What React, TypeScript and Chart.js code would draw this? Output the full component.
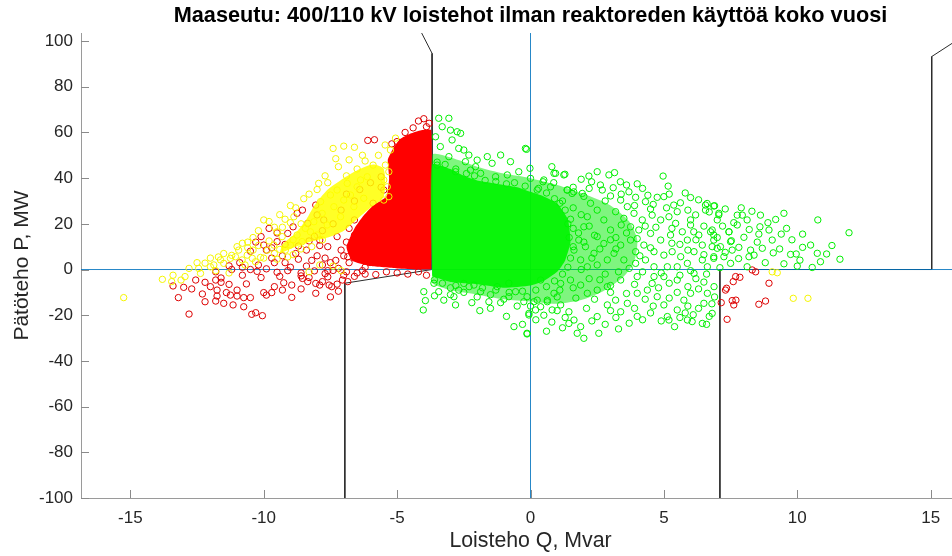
import React, { useEffect, useRef } from "react";
import { Chart, registerables } from "chart.js";

Chart.register(...registerables);

const TITLE = "Maaseutu: 400/110 kV loistehot ilman reaktoreden käyttöä koko vuosi";
const X_LABEL = "Loisteho Q, Mvar";
const Y_LABEL = "Pätöteho P, MW";
const X_TICKS = [-15, -10, -5, 0, 5, 10, 15];
const Y_TICKS = [-100, -80, -60, -40, -20, 0, 20, 40, 60, 80, 100];
const X_MIN = -16.85;
const X_MAX = 16.85;
const Y_MIN = -100;
const Y_MAX = 103.5;

// dense (overplotted) regions, outline [Q, P]
const greenHalo = [[-3.68,-3],[-3.68,50],[-3.0,49],[-2.0,45],[-1.0,42],[0,40],[1,37],[2,33],[3,28],[3.7,21],[4.0,13],[3.9,4],[3.5,-3],[2.8,-9],[2.0,-13],[1.0,-15],[0,-14],[-1,-13],[-2,-11],[-3,-9],[-3.68,-6],[-3.68,-3]];
const greenCore = [[-3.68,-3],[-3.68,46],[-3.0,44],[-2.5,41],[-2.0,39],[-1.5,38],[-1.0,37],[-0.5,36],[0.0,34],[0.5,32],[1.0,29],[1.4,22],[1.5,12],[1.3,4],[1.0,-1],[0.5,-5],[0.0,-7],[-1.0,-8],[-2.0,-6.5],[-3.0,-5.5],[-3.68,-3]];
const yellowCore = [[-9.4,7],[-9.0,9],[-8.3,12],[-7.6,14],[-7.0,17],[-6.5,22],[-6.0,27],[-5.5,32],[-5.5,44],[-5.9,46],[-6.4,44],[-7.0,40],[-7.6,35],[-8.1,28],[-8.4,22],[-8.8,16],[-9.3,11],[-9.4,7]];
const redCore = [[-3.72,0],[-3.72,61],[-4.1,61],[-4.5,59.5],[-4.9,57],[-5.15,53],[-5.35,48],[-5.3,40],[-5.4,32],[-5.9,28],[-6.3,23],[-6.6,18],[-6.9,10],[-6.7,4],[-6.0,1.5],[-5.0,0.5],[-4.2,0],[-3.72,0]];

// individual measurements [Q, P]
const greenPts = [
[-3.44,66.2],[-3.06,66.2],[-3.31,62.5],[-3.0,61.0],[-3.56,58.1],[-2.75,60.3],[-2.62,59.6],[-3.38,53.8],[-2.94,56.7],[-2.69,53.0],[-2.5,52.3],[-2.31,50.1],[-2.0,47.9],[-3.06,49.4],[-3.5,45.7],[-2.44,47.2],[-2.06,45.0],[-1.62,49.4],[-1.44,46.5],[-1.12,50.1],[-0.75,47.2],[-0.44,42.8],[-0.19,53.0],[-0.87,41.4],[-1.31,40.6],[-1.87,42.1],[-2.25,43.5],[-2.81,42.8],[0.0,39.9],[0.5,39.2],[0.88,42.1],[1.25,41.4],[1.38,34.8],[1.56,33.3],[0.75,36.2],[0.25,34.8],
[-0.15,52.6],[-0.02,44.3],[0.94,42.1],[1.29,41.7],[0.47,38.4],[0.87,38.0],[2.19,40.9],[2.5,42.8],[2.94,41.4],[3.15,42.4],[3.37,38.4],[2.29,38.4],[2.62,37.0],[1.37,34.8],[1.62,34.0],[1.94,33.3],[2.69,34.8],[3.0,32.2],[3.69,34.0],[3.94,31.6],[4.31,29.7],[4.75,31.6],[5.0,31.9],[4.97,40.9],[5.16,36.5],[5.37,28.2],[5.62,29.2],[5.5,25.3],[6.19,23.9],[6.0,21.7],[6.56,28.2],[6.87,27.8],[7.06,23.9],[7.0,21.7],[6.12,16.5],[6.31,15.1],[6.81,17.3],[6.87,15.1],[7.44,16.5],[7.75,19.5],[7.5,12.2],[7.12,10.0],[6.87,5.6],[7.25,5.6],[7.5,2.7],
[3.38,30.4],[3.63,27.5],[3.19,25.3],[3.5,22.4],[3.88,24.6],[4.19,21.7],[4.56,23.8],[4.88,21.7],[5.19,23.1],[5.44,20.2],[5.69,16.5],[5.88,12.9],[5.25,15.1],[4.88,12.9],[4.5,15.8],[4.25,10.7],[3.94,7.8],[3.75,12.9],[3.38,10.7],[3.13,7.1],[2.88,4.2],[3.5,4.2],[3.94,2.7],[4.31,4.2],[4.63,1.2],[5.0,6.3],[5.31,7.8],[5.63,5.6],[5.88,2.7],[6.13,7.8],[6.44,4.2],[6.63,1.2],[6.81,10.0],[6.44,10.7],[6.13,-1.7],[5.5,1.2],[5.13,1.2],[4.63,7.8],[4.06,17.3],[3.75,18.7],[3.0,17.3],[2.75,21.7],[2.5,26.0],[2.25,29.0],[2.13,23.1],[2.0,18.7],[2.5,14.4],[2.75,11.4],[2.38,7.1],[2.06,10.0],[1.81,12.9],[1.63,8.5],[1.88,4.2],[2.13,1.2],
[-0.13,-11.9],[0.13,-14.1],[0.38,-16.3],[0.63,-13.4],[0.88,-10.4],[1.13,-15.5],[1.44,-18.5],[1.63,-22.1],[1.88,-25.0],[2.0,-30.1],[1.75,-27.9],[1.44,-23.6],[2.56,-27.9],[2.5,-20.6],[2.88,-15.5],[3.19,-13.4],[3.38,-18.5],[3.63,-14.8],[4.0,-10.4],[4.38,-9.0],[4.56,-6.1],[4.75,-11.9],[5.0,-15.5],[5.13,-20.6],[5.19,-22.1],[5.5,-17.7],[5.75,-13.4],[6.0,-10.4],[5.88,-22.1],[6.06,-22.8],[6.44,-23.6],[6.5,-14.8],[6.63,-10.4],[6.88,-7.5],[6.81,-19.2],[5.5,-4.6],[5.0,-3.1],[4.63,-3.1],[4.0,-3.1],[3.38,-4.6],[2.88,-7.5],[2.5,-9.0],[2.13,-10.4],[1.88,-6.8],[1.5,-4.6],[1.13,-6.1],[0.38,-4.6],[-0.13,-27.9],[-0.06,-19.2],
[6.62,28.9],[6.9,27.9],[6.56,26.0],[7.06,24.6],[6.75,16.5],[6.87,12.9],[7.0,9.3],[6.87,4.9],[7.75,23.8],[7.94,23.8],[8.12,21.7],[7.62,20.5],[7.44,16.5],[8.0,14.1],[7.53,12.6],[7.81,9.7],[7.56,8.5],[8.25,8.5],[8.19,5.6],[8.38,6.3],[8.62,23.8],[8.6,18.7],[8.56,15.5],[8.94,17.3],[9.06,12.9],[9.19,21.9],[9.5,24.6],[9.6,18.0],[8.69,9.3],[9.1,7.3],[9.34,9.0],[9.75,6.6],[9.96,6.8],[10.1,4.1],[10.2,9.7],[10.5,10.7],[10.75,7.1],[11.1,6.8],[10.87,3.4],[10.77,21.7],[11.94,16.1],[10.56,0.9],[8.12,1.2],
[-4.0,-9.7],[-3.94,-13.6],[-4.02,-17.7],[-3.62,-6.0],[-3.44,-9.7],[-3.25,-13.4],[-2.87,-11.9],[-2.81,-15.5],[-2.69,-9.0],[-1.87,-9.7],[-1.56,-14.1],[-1.12,-14.5],[-0.81,-11.9],[-0.56,-9.7],[-0.62,-25.0],[-0.13,-28.2],[-0.06,-19.9],[-0.25,-14.1],[0.25,-13.4],[0.19,-17.7],[0.63,-14.1],[0.81,-17.7],[-2.5,-6.1],[-2.12,-6.8],[-1.25,-7.5],[-0.81,-6.0],
[-3.5,47],[-3.2,46],[-2.8,44],[-2.4,42],[-2.1,41],[-1.7,39],[-1.3,38.5],[-0.9,37.5],[-0.6,38],[-0.2,36.5],[0.3,35.5],[0.6,33.5],[0.9,31],[1.1,29],[1.3,26],[1.5,22],[1.6,18],[1.45,14],[1.6,10],[1.5,5],[1.4,1],[1.2,-2],[0.9,-5],[0.6,-7.5],[0.2,-9],[-0.3,-9.5],[-0.8,-10],[-1.3,-9],[-1.8,-8],[-2.3,-7.5],[-2.8,-7],[-3.3,-6],[-3.6,-4.5],
[1.2,30],[1.6,27],[1.9,24],[1.4,20],[1.8,16],[2.2,19],[2.4,15],[2.0,12],[2.6,9],[2.3,5],[1.9,0],[2.5,2],[2.8,-2],[2.2,-4],[1.6,-8],[1.0,-12],[2.4,-13],[3.0,-10],[3.3,-1],[3.7,0.5],[4.2,-1],[4.9,-1.5],[5.6,-2.5],[6.2,-4],[6.6,-2],[3.2,14],[4.0,13.5],[4.7,18.5],[5.6,11],[6.2,13],[6.5,19],[5.9,26],[4.5,26.5],[3.9,28],[2.0,32],[1.6,36],[0.8,45],[1.9,39.5],[3.6,37],[4.2,35.5],[5.2,33],[6.0,31.5],[6.9,-12],[6.8,-15],[6.3,-17],[5.8,-19],[4.5,-19],[3.9,-17],[3.2,-21],[2.8,-24],[4.2,-22],[5.4,-25],[-3.0,-8],[-2.5,-10],[-2.0,-12],[-1.5,-11],[-1.0,-13],[-0.5,-16],[0.0,-16],[0.5,-20],[1.0,-18],[1.3,-21],
[2.2,35.5],[2.8,30],[3.1,35.8],[3.4,33],[4.0,37.5],[4.4,32.5],[4.6,28.5],[5.1,27],[5.8,33.5],[6.3,30.5],[6.7,25.2],[7.3,26.5],[7.9,27],[8.3,25.5],[8.9,20.5],[9.4,15.5],[9.8,13],[10.2,15.5],[11.3,10.5],[11.6,4.5],[10.0,1.5],[9.5,2.5],[8.8,3],[8.5,12],[8.2,17.5],[7.2,19],[7.0,14],[6.0,19.5],[5.3,18],[4.3,19],[3.4,19.5],[3.6,16],[3.0,13],[3.2,9],[4.1,6],[4.5,9.5],[5.3,11.5],[5.9,8.5],[6.5,6.5],[7.3,7.5],[7.8,4.8],[7.1,0.8],[6.0,-0.5],[5.2,-6],[5.9,-7.5],[6.5,-5.5],[6.3,-8.5],[5.5,-10],[4.8,-8],[4.3,-13],[3.6,-10.5],[3.0,-7],[2.6,-4.5],[3.9,-6.5],[4.6,-16],[5.2,-12.5],[5.9,-16],[6.7,-20.5],[6.1,-19.8],[4.9,-22.5],[3.7,-23.5],[3.0,-18],[2.1,-17],[1.2,-25.5],[0.8,-23],[2.3,-22.5],[3.3,-26],[4.0,-20.5],[6.6,-24],[5.6,-21],[1.7,-12.5],[1.1,-9],[0.2,-22],[-0.3,-24],[0.6,-27],[-1.5,-17],[-2.2,-14.5],[-3.0,-11],[-3.6,-11.5],[-1.9,-18],[-0.9,-20.5]
];

const yellowPts = [
[-15.25,-12.3],[-13.8,-4.3],[-13.45,-5.3],[-13.1,-4.6],[-12.95,-3.1],[-12.44,0.5],[-12.37,-1.7],[-12.0,1.2],[-11.87,2.0],[-11.62,4.2],[-11.5,2.7],[-11.25,4.9],[-11.06,5.6],[-10.94,8.5],[-10.81,4.2],[-10.62,6.3],[-10.43,4.9],[-10.31,3.4],[-10.12,5.3],[-10.0,21.7],[-9.87,8.5],[-9.62,10.7],[-9.5,16.5],[-9.31,14.4],[-9.19,8.5],[-9.0,10.7],[-8.87,23.1],[-8.75,15.1],[-8.56,12.2],[-8.44,18],[-8.25,16.5],[-8.12,20.9],[-8.0,15.1],[-7.87,29.7],[-7.81,24.6],[-7.62,19.5],[-7.5,32.6],[-7.37,27.5],[-7.25,34.8],[-7.12,23.1],[-7.0,30.4],[-6.87,37.7],[-6.75,32.6],[-6.62,27.5],[-6.5,36.2],[-6.37,39.2],[-6.25,31.2],[-6.12,40.6],[-7.94,37.7],
[-8.3,-1],[-7.9,2],[-7.4,1.5],[-7.1,-0.5],
[-5.9,45.7],[-5.7,50],[-5.45,54.5],[-5.25,52.3],[-5.06,57.5],[-5.44,45.7],[-5.31,42.8],[-5.5,39.2],[-5.37,36.2],[-5.5,30.4],[-5.31,31.9],
[-7.4,53],[-7.0,54],[-6.6,53.5],[-6.3,50],[-6.8,48],[-7.2,45],[-6.5,44],[-6.9,41],[-7.6,38],[-8.0,35],[-8.5,31],[-9.0,28],[-9.4,24],[-9.8,21],[-10.2,17],[-10.6,12],[-11.0,10],[-11.5,7],[-12.0,5],[-12.5,3],
[-9.6,7],[-9.1,5.5],[-8.6,9],[-10.0,5],[-9.4,8.8],[-8.9,13],[-8.2,10],[-7.8,13],[-10.4,8.5],[-11.8,-0.5],[-12.8,0.5],[-13.4,-2.5],[-11.3,-1.5],[-8.3,33],[-8.8,27],[-9.2,22],[-9.6,18.5],[-10.4,14],[-10.8,11.5],[-7.7,41],[-7.3,48.5],[-6.2,47.5],
[-10.6,9.5],[-10.2,10.5],[-9.8,12.5],[-9.3,18.5],[-9.0,20.5],[-8.6,20],[-8.9,6.5],[-9.5,4.5],[-10.7,2],[-11.2,6.2],[-11.7,5.5],[-12.2,2.8],
[9.85,-12.6],[10.4,-12.6],[9.25,-1.4],[9.06,-1.0]
];

const redPts = [
[-13.4,-7.2],[-13.0,-7.8],[-13.2,-12.3],[-12.8,-19.5],[-12.55,-4.6],[-12.3,-10.7],[-12.2,-5.6],[-12.2,-14.1],[-11.8,-4.6],[-11.6,-3.7],[-11.6,-5.6],[-11.75,-9.0],[-11.75,-11.6],[-11.8,-13.8],[-11.4,-10.1],[-11.25,-11.2],[-11.0,-9.0],[-11.0,-11.6],[-11.5,-14.8],[-11.15,-15.5],[-10.75,-12.3],[-10.5,-12.3],[-10.75,-16.3],[-10.45,-19.6],[-10.3,-18.9],[-10.05,-20.2],[-10.65,-6.3],[-10.0,-10.1],[-9.9,-11.2],[-9.7,-10.1],[-9.25,-5.8],[-8.95,-6.8],[-8.95,-12.2],[-8.55,-3.9],[-8.35,-5.3],[-8.05,-6.1],[-7.9,-6.8],[-8.05,-10.4],[-7.8,-5.3],[-7.55,-6.8],[-7.45,-7.5],[-7.25,-6.4],[-7.05,-4.6],[-6.85,-5.3],
[-10.5,0],[-10.25,-0.8],[-9.9,0.3],[-9.5,-1.2],[-9.1,-0.5],[-8.6,-1.5],[-8.1,-0.6],[-7.7,-1.8],[-7.4,-0.4],[-8.6,-2.8],[-8.3,-3.5],[-7.6,-3.2],[-6.6,-3.0],[-6.2,-2.0],[-5.8,-2.2],[-5.4,-1.0],[-5.0,-1.5],[-4.6,-2.0],[-4.2,-1.0],[-3.9,-2.5],[-6.5,-1.5],[-7.0,-2.5],
[-10.1,14.4],[-10.0,10.7],[-9.9,8.5],[-9.5,12.2],[-9.1,15.8],[-8.9,18.7],[-8.75,24.6],[-8.55,26],[-8.35,20.2],[-8.05,28.2],[-8.0,23.9],[-7.75,21.7],[-7.9,12.9],[-7.6,10],[-7.25,14.4],[-7.1,8.5],[-6.85,5.6],[-6.6,21.7],[-6.6,10],[-6.4,14.4],[-6.1,17.3],[-5.9,29],[-5.6,40.6],[-5.5,34.8],
[-3.8,64],[-4.0,66],[-4.2,65],[-4.4,62],[-4.7,60],[-5.0,56],[-5.2,55],[-3.9,62.5],[-5.6,36],[-5.5,28],[-5.8,25],[-6.1,22],[-6.3,19],[-6.6,15],[-6.9,12],[-7.0,6],[-6.8,3],[-6.2,1],[-7.2,0.5],[-7.5,3],[-7.8,2],[-8.2,4],[-8.8,7],[-9.3,6],[-9.6,3],[-10.2,2],[-10.8,1],[-11.2,0],[-11.8,-1],[-6.1,56.5],[-5.85,56.8],[-9.5,16],[-9.8,18],[-10.3,12],
[-9.7,5],[-9.2,3],[-8.7,4.5],[-8.4,8.5],[-8.0,6],[-7.7,5],[-7.3,4],[-7.9,10.5],[-8.3,12.5],[-8.7,10.3],[-9.2,11],[-9.7,9.5],[-10.5,8],[-10.9,3],[-11.3,1.6],[-9.0,1],[-8.4,1.5],[-7.6,-0.5],[-6.9,-1],[-6.3,-0.5],[-9.4,-3],[-10.1,-3.5],[-10.8,-2.5],[-11.3,-6.5],[-12.7,-8.5],[-12.0,-7.5],[-9.6,-7.5],[-9.3,-9],[-8.6,-8.5],[-7.2,-9.5],[-7.5,-12],
[-6.9,33],[-6.4,35],[-6.0,38],[-6.6,30],[-7.1,26],[-7.4,20],[-6.8,18],[-7.8,17],[-8.1,14.5],
[8.44,-1.0],[8.31,-0.2],[7.69,-3.1],[7.85,-3.4],[7.6,-5.3],[8.94,-6.0],[7.31,-9.0],[7.35,-8.2],[7.15,-14.5],[7.56,-13.6],[7.7,-13.4],[7.62,-15.5],[8.56,-15.2],[8.81,-13.8],[7.37,-21.8]
];

// operating limit outlines [Q, P]
const limitLeft = [[-4.08,103.5],[-3.69,94.6],[-3.69,0],[-6.96,-6],[-6.96,-100]];
const limitRight = [[16.4,103.5],[15.04,93.2],[15.04,0],[7.1,0],[7.1,-100]];
// zero reference lines
const zeroQLine = [[0,-100],[0,103.5]];
const zeroPLine = [[-16.85,0],[16.85,0]];

const FONT = "'Liberation Sans', Arial, Helvetica, sans-serif";

const toXY = (arr: number[][]) => arr.map(([x, y]) => ({ x, y }));

const innerTicks = {
  id: "innerTicks",
  afterDatasetsDraw(chart: any) {
    const { ctx, chartArea, scales } = chart;
    const xs = scales.x;
    const ys = scales.y;
    ctx.save();
    ctx.strokeStyle = "#8a8a8a";
    ctx.lineWidth = 1;
    ctx.beginPath();
    for (const v of X_TICKS) {
      const px = Math.round(xs.getPixelForValue(v)) + 0.5;
      ctx.moveTo(px, chartArea.bottom);
      ctx.lineTo(px, chartArea.bottom - 8);
    }
    for (const v of Y_TICKS) {
      const py = Math.round(ys.getPixelForValue(v)) + 0.5;
      ctx.moveTo(chartArea.left, py);
      ctx.lineTo(chartArea.left + 8, py);
    }
    ctx.stroke();
    ctx.restore();
  },
};

export default function App() {
  const ref = useRef<HTMLCanvasElement | null>(null);

  useEffect(() => {
    document.body.style.margin = "0";
    document.body.style.overflow = "hidden";
    const canvas = ref.current;
    if (!canvas) return;

    const pointSet = (data: number[][], color: string) => ({
      data: toXY(data),
      showLine: false,
      pointStyle: "circle",
      pointRadius: 3.2,
      pointBorderWidth: 1,
      pointBorderColor: color,
      pointBackgroundColor: "rgba(0,0,0,0)",
      borderColor: color,
      backgroundColor: "rgba(0,0,0,0)",
    });
    const area = (data: number[][], color: string, tension: number) => ({
      data: toXY(data),
      showLine: true,
      fill: "shape",
      tension,
      pointRadius: 0,
      borderWidth: 0,
      borderColor: "rgba(0,0,0,0)",
      backgroundColor: color,
    });
    const line = (data: number[][], color: string, width: number) => ({
      data: toXY(data),
      showLine: true,
      fill: false,
      tension: 0,
      pointRadius: 0,
      borderWidth: width,
      borderColor: color,
      backgroundColor: color,
    });

    const chart = new Chart(canvas, {
      type: "scatter",
      data: {
        datasets: [
          area(greenHalo, "rgba(0,235,0,0.5)", 0.25),
          area(greenCore, "rgba(0,255,0,0.92)", 0.15),
          pointSet(greenPts, "#00ee00"),
          area(yellowCore, "rgba(255,255,0,0.85)", 0.25),
          pointSet(yellowPts, "#f5f500"),
          area(redCore, "#ff0000", 0.15),
          pointSet(redPts, "#dd0000"),
          line(zeroQLine, "rgba(0,114,189,0.85)", 1),
          line(zeroPLine, "rgba(0,114,189,0.85)", 1),
          line(limitLeft, "#2b2b2b", 1),
          line(limitRight, "#2b2b2b", 1),
        ] as any,
      },
      options: {
        responsive: false,
        animation: false,
        devicePixelRatio: 1,
        layout: { padding: 0 },
        plugins: {
          legend: { display: false },
          tooltip: { enabled: false },
          title: {
            display: true,
            text: TITLE,
            fullSize: false,
            color: "#000",
            font: { family: FONT, size: 21.7, weight: "bold", lineHeight: 1.2 },
            padding: { top: 3, bottom: 4 },
          },
        },
        scales: {
          x: {
            type: "linear",
            min: X_MIN,
            max: X_MAX,
            afterBuildTicks: (s: any) => {
              s.ticks = X_TICKS.map((v) => ({ value: v }));
            },
            afterFit: (s: any) => {
              s.height = 58;
            },
            grid: { display: false, drawTicks: false },
            border: { display: true, color: "#9a9a9a", width: 1 },
            ticks: {
              color: "#262626",
              font: { family: FONT, size: 17 },
              padding: 10,
              maxRotation: 0,
              autoSkip: false,
            },
            title: {
              display: true,
              text: X_LABEL,
              color: "#262626",
              font: { family: FONT, size: 21.3 },
              padding: { top: 0, bottom: 2.5 },
            },
          },
          y: {
            type: "linear",
            min: Y_MIN,
            max: Y_MAX,
            afterBuildTicks: (s: any) => {
              s.ticks = Y_TICKS.map((v) => ({ value: v }));
            },
            afterFit: (s: any) => {
              s.width = 81;
            },
            grid: { display: false, drawTicks: false },
            border: { display: true, color: "#9a9a9a", width: 1 },
            ticks: {
              color: "#262626",
              font: { family: FONT, size: 17 },
              padding: 8,
              autoSkip: false,
            },
            title: {
              display: true,
              text: Y_LABEL,
              color: "#262626",
              font: { family: FONT, size: 21 },
              padding: { top: 9.5, bottom: 0 },
            },
          },
        },
      } as any,
      plugins: [innerTicks],
    });

    return () => chart.destroy();
  }, []);

  return (
    <div style={{ width: 952, height: 556, overflow: "hidden", position: "relative", background: "#fff" }}>
      <canvas ref={ref} width={985} height={556} style={{ width: 985, height: 556, display: "block" }} />
    </div>
  );
}
